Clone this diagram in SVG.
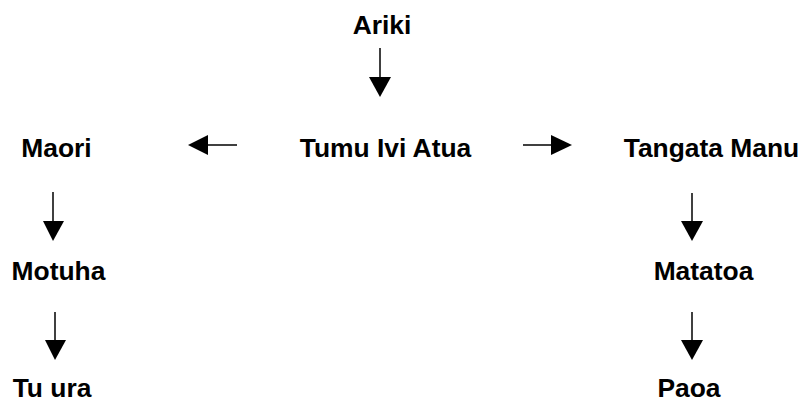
<svg xmlns="http://www.w3.org/2000/svg" width="805" height="403" viewBox="0 0 805 403">
<defs>
<style>
.lbl{font-family:"Liberation Sans",Arial,sans-serif;font-weight:bold;font-size:26.4px;fill:#000;text-anchor:middle}
.con{stroke:#000;stroke-width:1.5;fill:none}
.head{fill:#000;stroke:none}
</style>
</defs>
<rect width="805" height="403" fill="#fff"/>
<g id="connectors">
<line class="con" x1="380" y1="48" x2="380" y2="80"/>
<polygon class="head" points="369,77 391,77 380,97"/>
<line class="con" x1="237" y1="145" x2="205" y2="145"/>
<polygon class="head" points="208,135 208,155 188,145"/>
<line class="con" x1="523" y1="145" x2="553" y2="145"/>
<polygon class="head" points="551,135 551,155 572,145"/>
<line class="con" x1="53" y1="192" x2="53" y2="225"/>
<polygon class="head" points="43,221 64,221 53,241"/>
<line class="con" x1="55" y1="312" x2="55" y2="343"/>
<polygon class="head" points="45,340 66,340 55,360"/>
<line class="con" x1="692" y1="193" x2="692" y2="225"/>
<polygon class="head" points="681,221 703,221 692,241"/>
<line class="con" x1="692" y1="312" x2="692" y2="343"/>
<polygon class="head" points="681,340 703,340 692,360"/>
</g>
<g id="ariki"><text class="lbl" x="382" y="34">Ariki</text></g>
<g id="tumu"><text class="lbl" x="385.5" y="157">Tumu Ivi Atua</text></g>
<g id="maori"><text class="lbl" x="56.5" y="157">Maori</text></g>
<g id="tangata"><text class="lbl" x="711.5" y="157">Tangata Manu</text></g>
<g id="motuha"><text class="lbl" x="58.5" y="280">Motuha</text></g>
<g id="matatoa"><text class="lbl" x="703.5" y="280">Matatoa</text></g>
<g id="tuura"><text class="lbl" x="52" y="397">Tu ura</text></g>
<g id="paoa"><text class="lbl" x="689" y="397">Paoa</text></g>
</svg>
